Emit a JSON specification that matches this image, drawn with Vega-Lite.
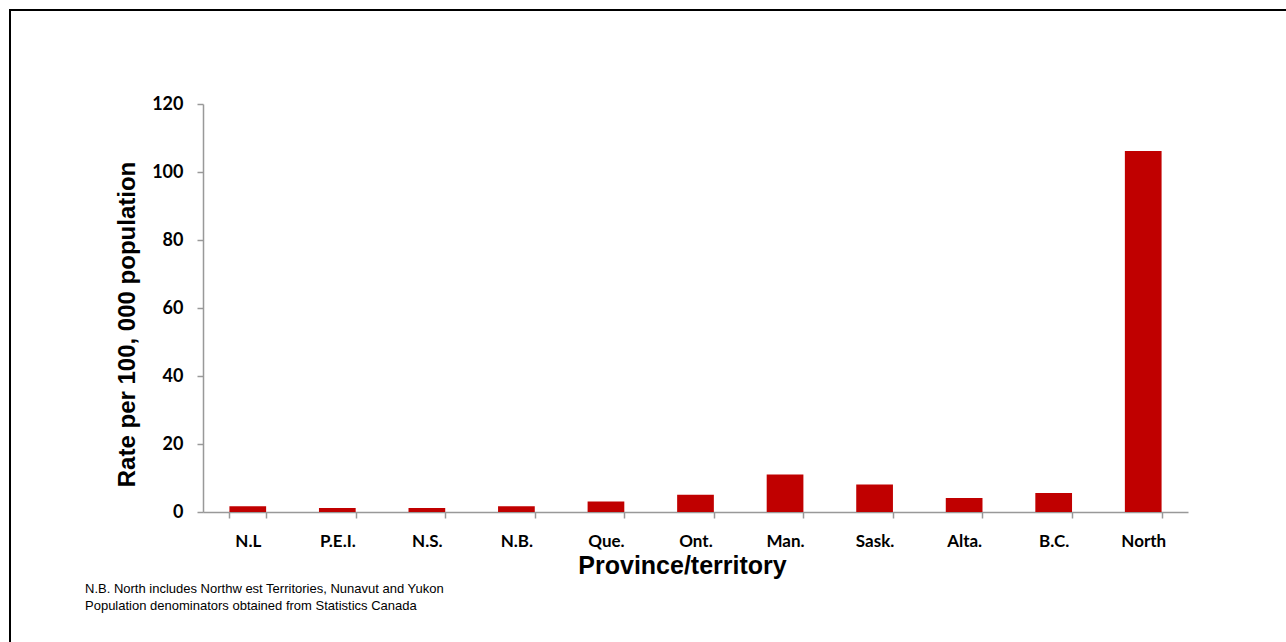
{
  "$schema": "https://vega.github.io/schema/vega-lite/v6.json",
  "autosize": "none",
  "padding": {"left": 10, "top": 10, "right": 0, "bottom": 0},
  "width": 1276,
  "height": 632,
  "background": "white",
  "title": {
    "text": ["N.B. North includes Northw est Territories, Nunavut  and Yukon", "Population denominators obtained from Statistics Canada"],
    "orient": "bottom",
    "anchor": "start",
    "frame": "group",
    "offset": 0,
    "dx": 75,
    "dy": -59,
    "font": "Liberation Sans",
    "fontSize": 13,
    "fontWeight": "normal",
    "color": "black",
    "lineHeight": 17
  },
  "data": {
    "values": [
      {"region": "N.L", "rate": 1.7},
      {"region": "P.E.I.", "rate": 1.2},
      {"region": "N.S.", "rate": 1.2},
      {"region": "N.B.", "rate": 1.7},
      {"region": "Que.", "rate": 3.1},
      {"region": "Ont.", "rate": 5.1},
      {"region": "Man.", "rate": 11.0},
      {"region": "Sask.", "rate": 8.1},
      {"region": "Alta.", "rate": 4.1},
      {"region": "B.C.", "rate": 5.6},
      {"region": "North", "rate": 106.2}
    ]
  },
  "mark": {"type": "bar", "color": "#C00000"},
  "encoding": {
    "x": {
      "field": "region",
      "type": "nominal",
      "sort": null,
      "scale": {"range": [193, 1178], "paddingInner": 0.59, "paddingOuter": 0.295},
      "axis": {
        "title": "Province/territory",
        "offset": -130,
        "labelAngle": 0,
        "labelFont": "Lato",
        "labelFontWeight": "bold",
        "labelFontSize": 17,
        "labelColor": "black",
        "labelPadding": 15,
        "tickBand": "extent",
        "tickSize": 6,
        "tickColor": "#999999",
        "tickWidth": 1.5,
        "domainColor": "#999999",
        "domainWidth": 1.5,
        "titleFont": "Liberation Sans",
        "titleFontWeight": "bold",
        "titleFontSize": 25,
        "titleColor": "black",
        "titleX": 672,
        "titleY": 61,
        "titleBaseline": "alphabetic",
        "titleAlign": "center",
        "grid": false
      }
    },
    "y": {
      "field": "rate",
      "type": "quantitative",
      "scale": {"domain": [0, 120], "range": [502, 94], "nice": false},
      "axis": {
        "title": "Rate per 100, 000 population",
        "offset": -193,
        "values": [0, 20, 40, 60, 80, 100, 120],
        "labelFont": "Lato",
        "labelFontWeight": "bold",
        "labelFontSize": 18,
        "labelColor": "black",
        "labelPadding": 14,
        "tickSize": 6,
        "tickColor": "#999999",
        "tickWidth": 1.5,
        "domainColor": "#999999",
        "domainWidth": 1.5,
        "titleFont": "Liberation Sans",
        "titleFontWeight": "bold",
        "titleFontSize": 24,
        "titleColor": "black",
        "titleX": -76,
        "titleY": 314,
        "titleAngle": -90,
        "titleBaseline": "middle",
        "titleAlign": "center",
        "grid": false
      }
    }
  },
  "config": {
    "view": {"stroke": "black", "strokeWidth": 2, "strokeDash": [1276, 1908, 632]}
  }
}
